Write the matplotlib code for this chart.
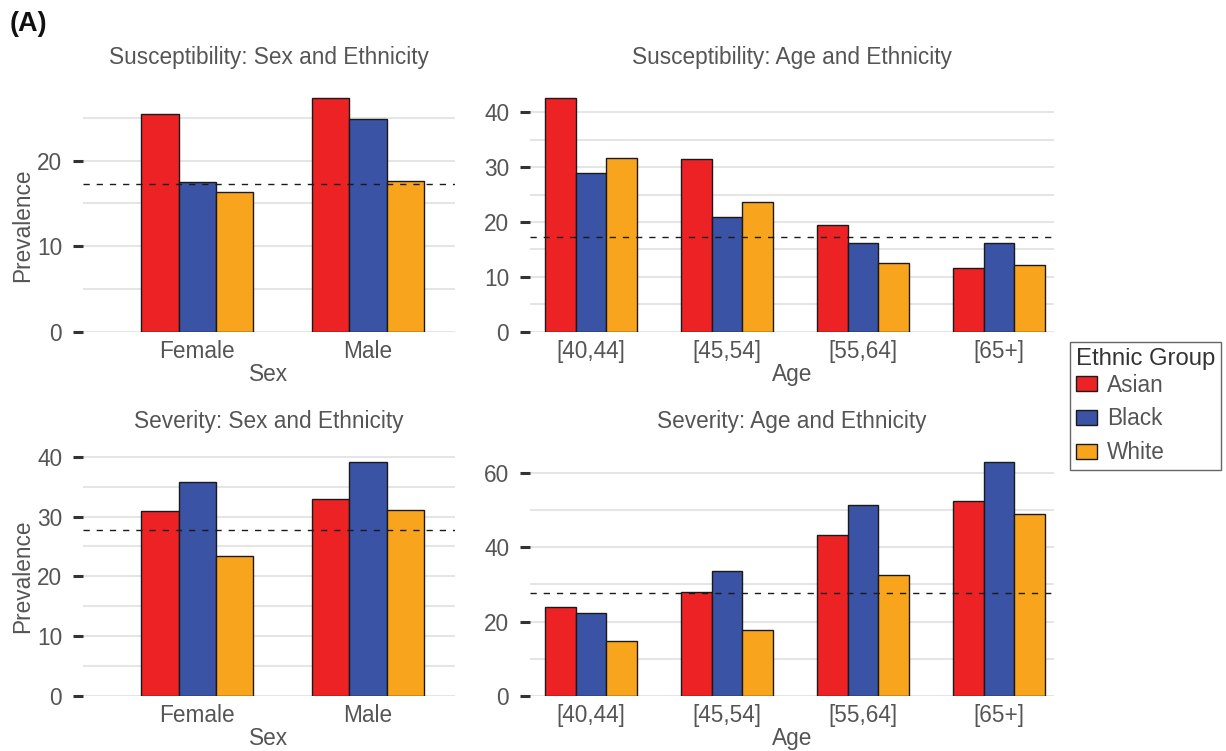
import matplotlib
matplotlib.use("Agg")
import matplotlib.pyplot as plt
from matplotlib.patches import Patch
from matplotlib.ticker import MultipleLocator
import numpy as np

plt.rcParams['font.family'] = ['Liberation Sans', 'DejaVu Sans']

groups = ['Asian', 'Black', 'White']
colors = ['#ED2224', '#3A53A4', '#F8A51D']

sex_labels = ['Female', 'Male']
age_labels = ['[40,44]', '[45,54]', '[55,64]', '[65+]']

# prevalence (%) by ethnic group, one list per group
susc_sex = {
    'Asian': [25.4, 27.3],
    'Black': [17.5, 24.9],
    'White': [16.3, 17.6],
}
susc_age = {
    'Asian': [42.6, 31.5, 19.5, 11.6],
    'Black': [29.0, 20.9, 16.1, 16.2],
    'White': [31.7, 23.6, 12.6, 12.2],
}
sev_sex = {
    'Asian': [31.0, 32.9],
    'Black': [35.8, 39.2],
    'White': [23.4, 31.1],
}
sev_age = {
    'Asian': [23.8, 27.9, 43.3, 52.6],
    'Black': [22.3, 33.7, 51.5, 63.1],
    'White': [14.8, 17.7, 32.6, 48.9],
}
susc_overall = 17.25
sev_overall = 27.7

TXT = '#555555'
FS = 16.3
W, H = 1226, 751


def px_axes(fig, left, right, top, bottom):
    return fig.add_axes([left / W, 1 - bottom / H, (right - left) / W, (bottom - top) / H])


def draw_panel(ax, data, labels, overall, title, xlabel, major, minor, width, xlim, ylabel=None, ylab_y=0.5):
    x = np.arange(len(labels))
    for i, g in enumerate(groups):
        ax.bar(x + (i - 1) * width, data[g], width, color=colors[i],
               edgecolor='#1a1a1a', linewidth=1.0, zorder=3)
    top = max(max(v) for v in data.values())
    ax.set_ylim(0, top * 1.05)
    ax.set_xlim(*xlim)
    ax.axhline(overall, color='#1a1a1a', lw=1.0, ls=(0, (4.5, 5)), zorder=4)

    ax.yaxis.set_major_locator(MultipleLocator(major))
    ax.yaxis.set_minor_locator(MultipleLocator(minor))
    ax.grid(axis='y', which='both', color='#e3e3e3', lw=1.3, zorder=0)
    ax.set_axisbelow(True)
    for s in ax.spines.values():
        s.set_visible(False)
    ax.tick_params(axis='y', which='major', length=7, width=2.2, color='#333333',
                   pad=8, labelsize=FS, labelcolor=TXT)
    ax.tick_params(axis='y', which='minor', length=0)
    ax.tick_params(axis='x', length=0, pad=6, labelsize=FS, labelcolor=TXT)
    ax.set_xticks(x)
    ax.set_xticklabels(labels)
    ax.set_title(title, fontsize=FS, color=TXT, pad=16)
    ax.set_xlabel(xlabel, fontsize=FS, color=TXT, labelpad=0)
    if ylabel:
        ax.set_ylabel(ylabel, fontsize=FS, color=TXT)
        ax.yaxis.set_label_coords(-0.132, ylab_y)


fig = plt.figure(figsize=(W / 100, H / 100), dpi=100)

ax1 = px_axes(fig, 83, 455, 86.5, 331.7)
ax2 = px_axes(fig, 530, 1054.4, 86.5, 331.7)
ax3 = px_axes(fig, 83, 455, 450, 695.7)
ax4 = px_axes(fig, 530, 1054.4, 450, 695.7)

draw_panel(ax1, susc_sex, sex_labels, susc_overall, 'Susceptibility: Sex and Ethnicity',
           'Sex', 10, 5, 0.219, (-0.669, 1.509), ylabel='Prevalence', ylab_y=0.435)
draw_panel(ax2, susc_age, age_labels, susc_overall, 'Susceptibility: Age and Ethnicity',
           'Age', 10, 5, 0.2265, (-0.448, 3.407))
draw_panel(ax3, sev_sex, sex_labels, sev_overall, 'Severity: Sex and Ethnicity',
           'Sex', 10, 5, 0.219, (-0.669, 1.509), ylabel='Prevalence', ylab_y=0.487)
draw_panel(ax4, sev_age, age_labels, sev_overall, 'Severity: Age and Ethnicity',
           'Age', 20, 10, 0.2265, (-0.448, 3.407))

handles = [Patch(facecolor=c, edgecolor='#1a1a1a', linewidth=1.0) for c in colors]
leg = fig.legend(handles, groups, title='Ethnic Group', loc='upper left',
                 bbox_to_anchor=(1070 / W, 1 - 342 / H), borderaxespad=0,
                 fontsize=FS, title_fontsize=17.2, fancybox=False, framealpha=1,
                 edgecolor='#666666', handlelength=0.95, handleheight=0.65,
                 handletextpad=0.45, labelspacing=0.47, borderpad=0.25,
                 alignment='left')
# pull the entries up closer to the title
leg._legend_box.sep = 3
leg.get_frame().set_linewidth(1.0)
leg.get_title().set_color('#333333')
for t in leg.get_texts():
    t.set_color(TXT)

fig.text(10 / W, 1 - 24 / H, '(A)', fontsize=19.5, fontweight='bold', color='#111111',
         va='center', ha='left')

fig.savefig('out.png', dpi=100)
